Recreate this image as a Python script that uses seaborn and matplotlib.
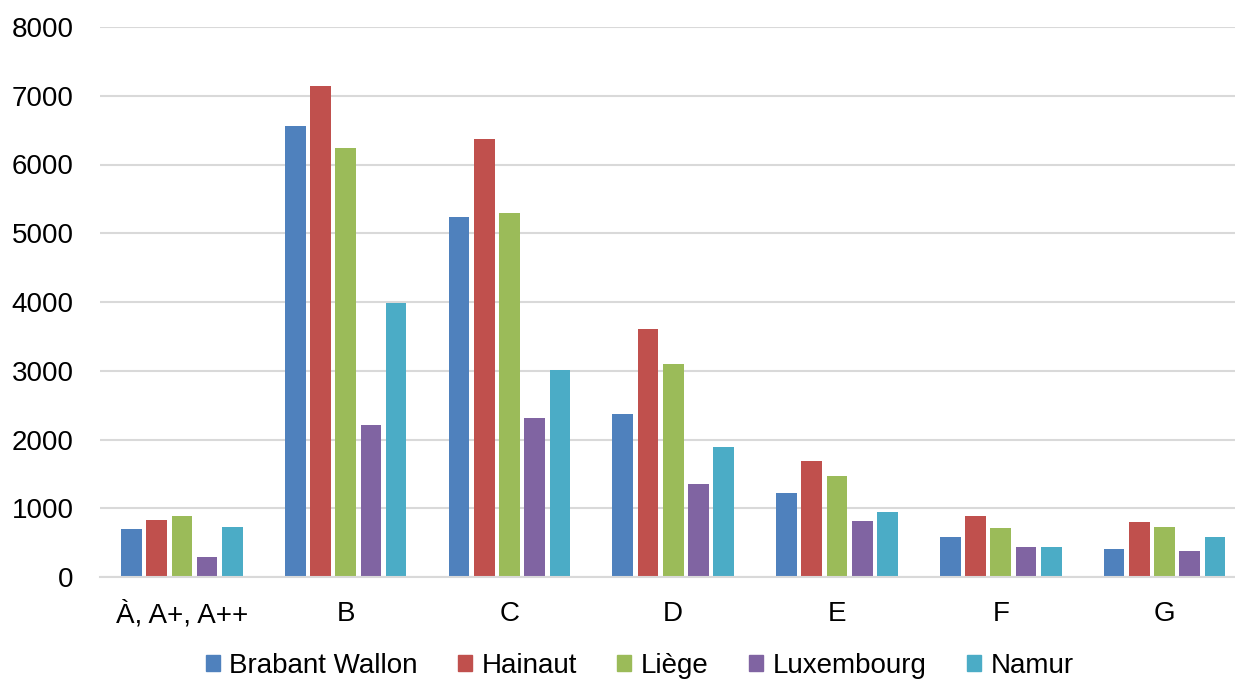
import numpy as np
import pandas as pd
import matplotlib
matplotlib.use("Agg")
import matplotlib.pyplot as plt
import seaborn as sns

# ----------------------------
# Data
# ----------------------------

categories = ["À, A+, A++", "B", "C", "D", "E", "F", "G"]
provinces = ["Brabant Wallon", "Hainaut", "Liège", "Luxembourg", "Namur"]

brabant_wallon = [705, 6560, 5236, 2371, 1222, 580, 411]
hainaut = [832, 7145, 6371, 3607, 1687, 884, 807]
liege = [884, 6240, 5295, 3098, 1469, 716, 730]
luxembourg = [296, 2211, 2313, 1353, 815, 440, 382]
namur = [722, 3985, 3011, 1891, 945, 440, 575]

colors = ["#4F81BD", "#C0504D", "#9BBB59", "#8064A2", "#4BACC6"]

series = [brabant_wallon, hainaut, liege, luxembourg, namur]
df = pd.DataFrame({
    "Classe": categories * len(provinces),
    "Province": np.repeat(provinces, len(categories)),
    "Valeur": np.concatenate(series),
})

# ----------------------------
# Plot
# ----------------------------

sns.set_style("white")
plt.rcParams["font.family"] = ["Liberation Sans", "DejaVu Sans"]
plt.rcParams["text.color"] = "black"

fig = plt.figure(figsize=(12.35, 6.81), dpi=100)
ax = fig.add_axes([100 / 1235, 104 / 681, 1 - 100 / 1235, 550 / 681])

sns.barplot(
    data=df, x="Classe", y="Valeur", hue="Province",
    palette=colors, width=0.77, gap=0.18, ax=ax, legend=False,
    saturation=1, linewidth=0,
)

ax.set_ylim(0, 8000)
ax.set_xlim(-0.5, 6.43)
ax.set_yticks(range(0, 8001, 1000))
ax.yaxis.grid(True, color="#D9D9D9", linewidth=1.5)
ax.set_axisbelow(True)
for side in ["left", "right", "top"]:
    ax.spines[side].set_visible(False)
ax.spines["bottom"].set_color("#D9D9D9")
ax.spines["bottom"].set_linewidth(1.5)

ax.set_xlabel("")
ax.set_ylabel("")
ax.tick_params(axis="both", length=0, labelsize=20, labelcolor="black")
ax.tick_params(axis="x", pad=17)
ax.tick_params(axis="y", pad=19)

# legend sits at the bottom edge, kept just inside the figure
handles = [plt.Rectangle((0, 0), 1, 1, color=c) for c in colors]
fig.legend(
    handles, provinces, loc="center", bbox_to_anchor=(0.518, 0.022),
    ncol=5, frameon=False, fontsize=20, handlelength=0.5, handleheight=0.5,
    handletextpad=0.35, columnspacing=1.45, borderpad=0,
)

fig.savefig("out.png", dpi=100)
